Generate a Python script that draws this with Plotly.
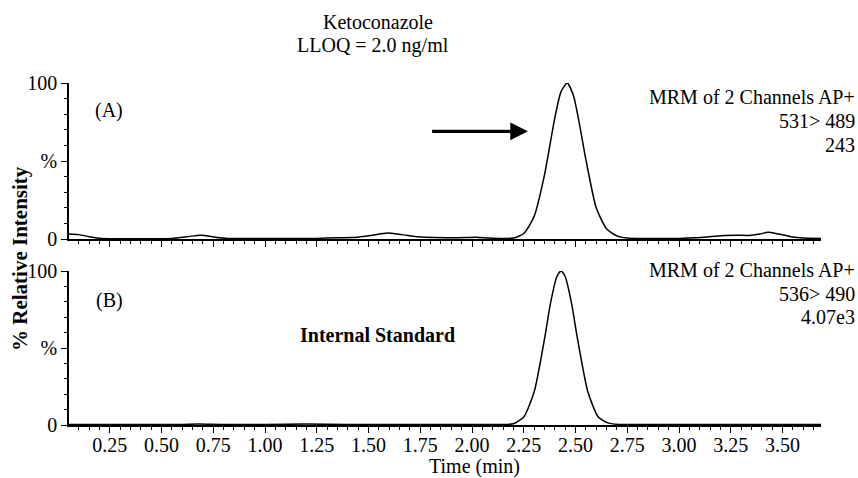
import plotly.graph_objects as go

# ---------------- data ----------------
time_a = [0.05, 0.10, 0.15, 0.20, 0.25, 0.35, 0.45, 0.55, 0.62, 0.69, 0.76, 0.82,
          0.95, 1.10, 1.25, 1.35, 1.45, 1.52, 1.59, 1.66, 1.74, 1.82, 1.90, 1.97,
          2.02, 2.08, 2.14, 2.20, 2.25, 2.30, 2.35, 2.40, 2.43, 2.46, 2.49, 2.52,
          2.55, 2.60, 2.65, 2.70, 2.75, 2.80, 2.90, 3.00, 3.08, 3.15, 3.22, 3.28,
          3.34, 3.39, 3.43, 3.48, 3.54, 3.60, 3.686]
intensity_a = [3.2, 2.8, 1.5, 0.5, 0.2, 0.2, 0.2, 0.4, 1.4, 2.4, 1.2, 0.4,
               0.3, 0.3, 0.4, 0.8, 1.2, 2.4, 3.8, 2.8, 1.4, 0.9, 0.8, 0.9,
               1.1, 0.6, 0.3, 0.6, 3.5, 14.5, 41.0, 77.6, 94.5, 100.0, 92.0, 73.0,
               51.0, 20.0, 6.5, 2.0, 0.6, 0.3, 0.3, 0.4, 0.8, 1.5, 2.3, 2.4,
               2.3, 3.2, 4.3, 3.2, 1.5, 0.6, 0.4]

time_b = [0.05, 0.20, 0.40, 0.60, 0.68, 0.80, 1.00, 1.20, 1.40, 1.60, 1.80, 2.00,
          2.10, 2.15, 2.20, 2.25, 2.30, 2.35, 2.38, 2.41, 2.43, 2.45, 2.48, 2.51,
          2.56, 2.61, 2.66, 2.71, 2.80, 3.00, 3.20, 3.40, 3.686]
intensity_b = [0.3, 0.3, 0.3, 0.4, 0.6, 0.3, 0.3, 0.6, 0.3, 0.4, 0.3, 0.3,
               0.3, 0.3, 0.8, 5.2, 21.4, 55.7, 79.6, 96.4, 100.0, 96.4, 79.6, 55.7,
               21.4, 5.2, 1.2, 0.4, 0.3, 0.3, 0.3, 0.3, 0.3]

x_tick_vals = [0.25, 0.50, 0.75, 1.00, 1.25, 1.50, 1.75, 2.00, 2.25, 2.50, 2.75, 3.00, 3.25, 3.50]
x_tick_text = ["0.25", "0.50", "0.75", "1.00", "1.25", "1.50", "1.75", "2.00",
               "2.25", "2.50", "2.75", "3.00", "3.25", "3.50"]
y_tick_vals = [0, 50, 100]
y_tick_text = ["0", "%", "100"]

title_lines = ["Ketoconazole", "LLOQ = 2.0 ng/ml"]
info_a = ["MRM of 2 Channels AP+", "531> 489", "243"]
info_b = ["MRM of 2 Channels AP+", "536> 490", "4.07e3"]

# ---------------- layout helpers ----------------
W, H = 858, 478
FONT = "Liberation Serif, Times New Roman, serif"


def px(x):
    return x / W


def py(y):
    return 1 - y / H


fig = go.Figure()
fig.add_trace(go.Scatter(x=time_a, y=intensity_a, mode="lines", line=dict(color="black", width=1.5, shape="spline", smoothing=0.6),
                         xaxis="x", yaxis="y", showlegend=False, hoverinfo="skip"))
fig.add_trace(go.Scatter(x=time_b, y=intensity_b, mode="lines", line=dict(color="black", width=1.5, shape="spline", smoothing=0.6),
                         xaxis="x2", yaxis="y2", showlegend=False, hoverinfo="skip"))

xrange = [0.053, 3.686]
common_x = dict(range=xrange, domain=[px(69), px(821)], showline=True, linecolor="black", linewidth=1.5,
                showgrid=False, zeroline=False, ticks="outside", ticklen=6, tickwidth=1.2, tickcolor="black",
                tickvals=x_tick_vals, ticktext=x_tick_text, ticklabelstandoff=-5,
                minor=dict(dtick=0.05, tick0=0, ticks="outside", ticklen=3, tickwidth=1, tickcolor="black", showgrid=False),
                tickfont=dict(family=FONT, size=20, color="black"))
common_y = dict(range=[0, 100], showline=True, linecolor="black", linewidth=1.5, showgrid=False, zeroline=False,
                ticks="outside", ticklen=6, tickwidth=1.2, tickcolor="black",
                tickvals=y_tick_vals, ticktext=y_tick_text,
                minor=dict(dtick=10, tick0=0, ticks="outside", ticklen=3, tickwidth=1, tickcolor="black", showgrid=False),
                tickfont=dict(family=FONT, size=20, color="black"))

fig.update_layout(
    width=W, height=H, margin=dict(l=0, r=0, t=0, b=0, autoexpand=False),
    paper_bgcolor="white", plot_bgcolor="white",
    xaxis=dict(common_x, anchor="y", showticklabels=False),
    yaxis=dict(common_y, domain=[py(239), py(83)], anchor="x"),
    xaxis2=dict(common_x, anchor="y2", matches="x"),
    yaxis2=dict(common_y, domain=[py(425), py(271)], anchor="x2"),
)

ann = []
# title
ann.append(dict(x=px(378), y=py(22), text=title_lines[0]))
ann.append(dict(x=px(373), y=py(46), text=title_lines[1]))
# panel labels
ann.append(dict(x=px(109), y=py(110), text="(A)"))
ann.append(dict(x=px(110), y=py(300), text="(B)"))
# info blocks
for i, (ya, yb) in enumerate(zip([97, 121, 145], [270, 294, 317])):
    ann.append(dict(x=px(857), y=py(ya), text=info_a[i], xanchor="right"))
    ann.append(dict(x=px(857), y=py(yb), text=info_b[i], xanchor="right"))
# internal standard
ann.append(dict(x=px(377), y=py(335), text="<b>Internal Standard</b>"))
# axis titles
ann.append(dict(x=px(475), y=py(466), text="Time (min)"))
ann.append(dict(x=px(20), y=py(259), text="<b>% Relative Intensity</b>", textangle=-90, font=dict(family=FONT, size=21, color="black")))

for a in ann:
    a.setdefault("xref", "paper")
    a.setdefault("yref", "paper")
    a.setdefault("xanchor", "center")
    a.setdefault("yanchor", "middle")
    a.setdefault("showarrow", False)
    a.setdefault("font", dict(family=FONT, size=20, color="black"))
    fig.add_annotation(**a)

# arrow pointing at the analyte peak
fig.add_annotation(x=2.27, y=69, ax=1.80, ay=69, xref="x", yref="y", axref="x", ayref="y",
                   showarrow=True, arrowhead=2, arrowsize=1.1, arrowwidth=3.2, arrowcolor="black",
                   standoff=0, text="")

fig.write_html("out.html", config={"displayModeBar": False},
               post_script="document.body.style.margin='0';document.body.style.overflow='hidden';")
